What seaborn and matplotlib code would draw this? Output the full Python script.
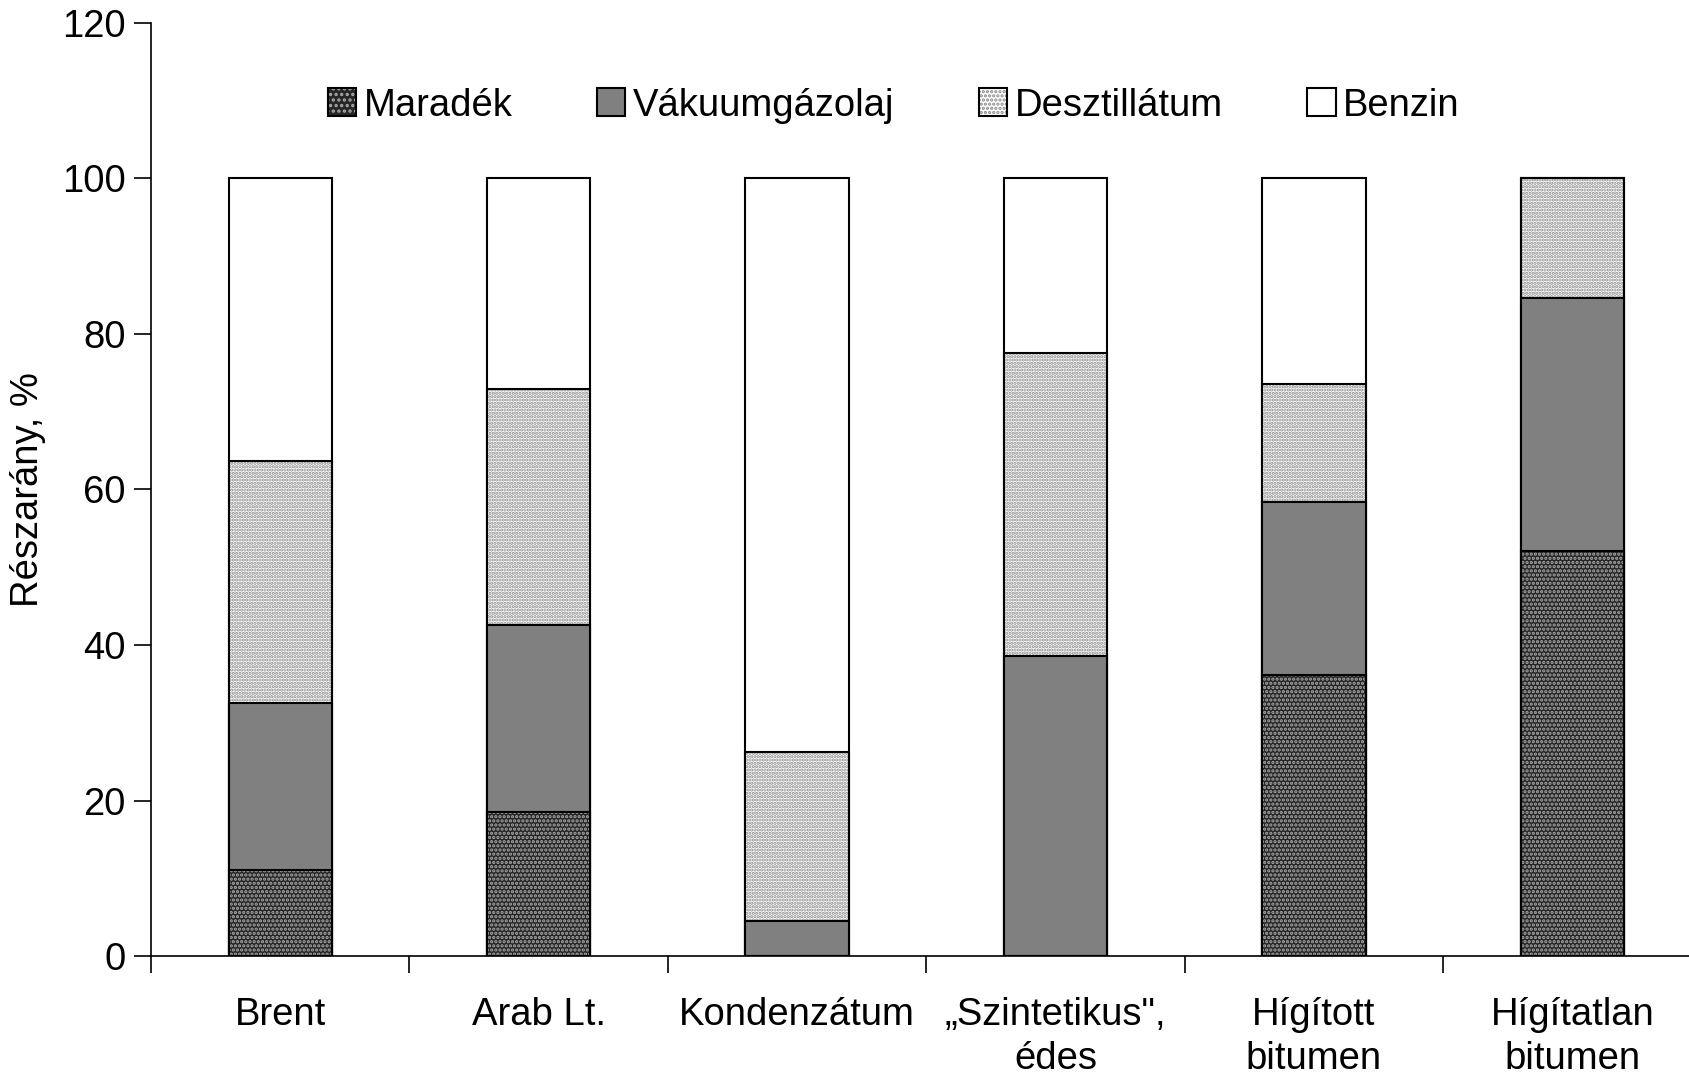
import numpy as np
import pandas as pd
import matplotlib
matplotlib.use('Agg')
import matplotlib.pyplot as plt
import seaborn as sns
from matplotlib.patches import Patch

# ---------- data ----------
categories = ['Brent', 'Arab Lt.', 'Kondenzátum', '„Szintetikus",\nédes',
              'Hígított\nbitumen', 'Hígítatlan\nbitumen']
maradek = [11.1, 18.5, 0.0, 0.0, 36.1, 52.1]
vakuum = [21.5, 24.1, 4.6, 38.6, 22.3, 32.5]
deszt = [31.0, 30.3, 21.7, 39.0, 15.2, 15.4]
benzin = [36.4, 27.1, 73.7, 22.4, 26.4, 0.0]
series_names = ['Maradék', 'Vákuumgázolaj', 'Desztillátum', 'Benzin']

sns.set_theme(style='white')
plt.rcParams['font.family'] = ['Liberation Sans', 'DejaVu Sans']
plt.rcParams['text.color'] = 'black'
plt.rcParams['axes.labelcolor'] = 'black'
plt.rcParams['xtick.color'] = 'black'
plt.rcParams['ytick.color'] = 'black'
plt.rcParams['hatch.linewidth'] = 1.6
FS = 27.5

df = pd.DataFrame({'cat': categories, 'Maradék': maradek, 'Vákuumgázolaj': vakuum,
                   'Desztillátum': deszt, 'Benzin': benzin})
cum = df[series_names].cumsum(axis=1)

fig = plt.figure(figsize=(16.89, 10.77), dpi=100)
ax = fig.add_axes([0.0894, 0.112, 0.918, 0.867])

W = 0.4
# top layer first, lower layers drawn over it
sns.barplot(x=df['cat'], y=cum['Benzin'], color='white', edgecolor='black',
            linewidth=1.5, width=W, saturation=1, ax=ax)
sns.barplot(x=df['cat'], y=cum['Desztillátum'], color='white', edgecolor='#8a8a8a',
            hatch='.....', linewidth=0, width=W, saturation=1, ax=ax)
sns.barplot(x=df['cat'], y=cum['Desztillátum'], fill=False, edgecolor='black',
            linewidth=1.5, width=W, ax=ax)
sns.barplot(x=df['cat'], y=cum['Vákuumgázolaj'], color='#808080', edgecolor='black',
            linewidth=1.5, width=W, saturation=1, ax=ax)
sns.barplot(x=df['cat'], y=cum['Maradék'], color='#262626', edgecolor='#a8a8a8',
            hatch='....', linewidth=0, width=W, saturation=1, ax=ax)
sns.barplot(x=df['cat'], y=cum['Maradék'], fill=False, edgecolor='black',
            linewidth=1.5, width=W, ax=ax)

ax.set_xlim(-0.5, 5.5)
ax.set_ylim(0, 120)
ax.set_yticks(np.arange(0, 121, 20))
ax.set_ylabel('Részarány, %', fontsize=FS, labelpad=12)
ax.set_xlabel('')
for s in ['top', 'right']:
    ax.spines[s].set_visible(False)
for s in ['left', 'bottom']:
    ax.spines[s].set_color('black')
    ax.spines[s].set_linewidth(1.2)

ax.set_xticks(range(len(categories)))
ax.set_xticklabels(categories, fontsize=FS, linespacing=1.3)
ax.set_xticks(np.arange(-0.5, 5.6, 1), minor=True)
ax.tick_params(axis='x', which='major', length=0, pad=29)
ax.tick_params(axis='x', which='minor', length=12, width=1.2, color='black', direction='out', bottom=True)
ax.tick_params(axis='y', length=12, width=1.2, color='black', direction='out', left=True,
               labelsize=FS, pad=6)

h_mar = (Patch(facecolor='#262626', edgecolor='#a8a8a8', hatch='...', linewidth=0),
         Patch(fill=False, edgecolor='black', linewidth=1.5))
h_vak = Patch(facecolor='#808080', edgecolor='black', linewidth=1.5)
h_des = (Patch(facecolor='white', edgecolor='#8a8a8a', hatch='....', linewidth=0),
         Patch(fill=False, edgecolor='black', linewidth=1.5))
h_ben = Patch(facecolor='white', edgecolor='black', linewidth=1.5)
ax.legend([h_mar, h_vak, h_des, h_ben], series_names, loc='center',
          bbox_to_anchor=(0.479, 0.911), ncol=4, frameon=False, fontsize=FS,
          handlelength=0.75, handleheight=0.75, handletextpad=0.2, columnspacing=2.2)

fig.savefig('out.png', dpi=100)
